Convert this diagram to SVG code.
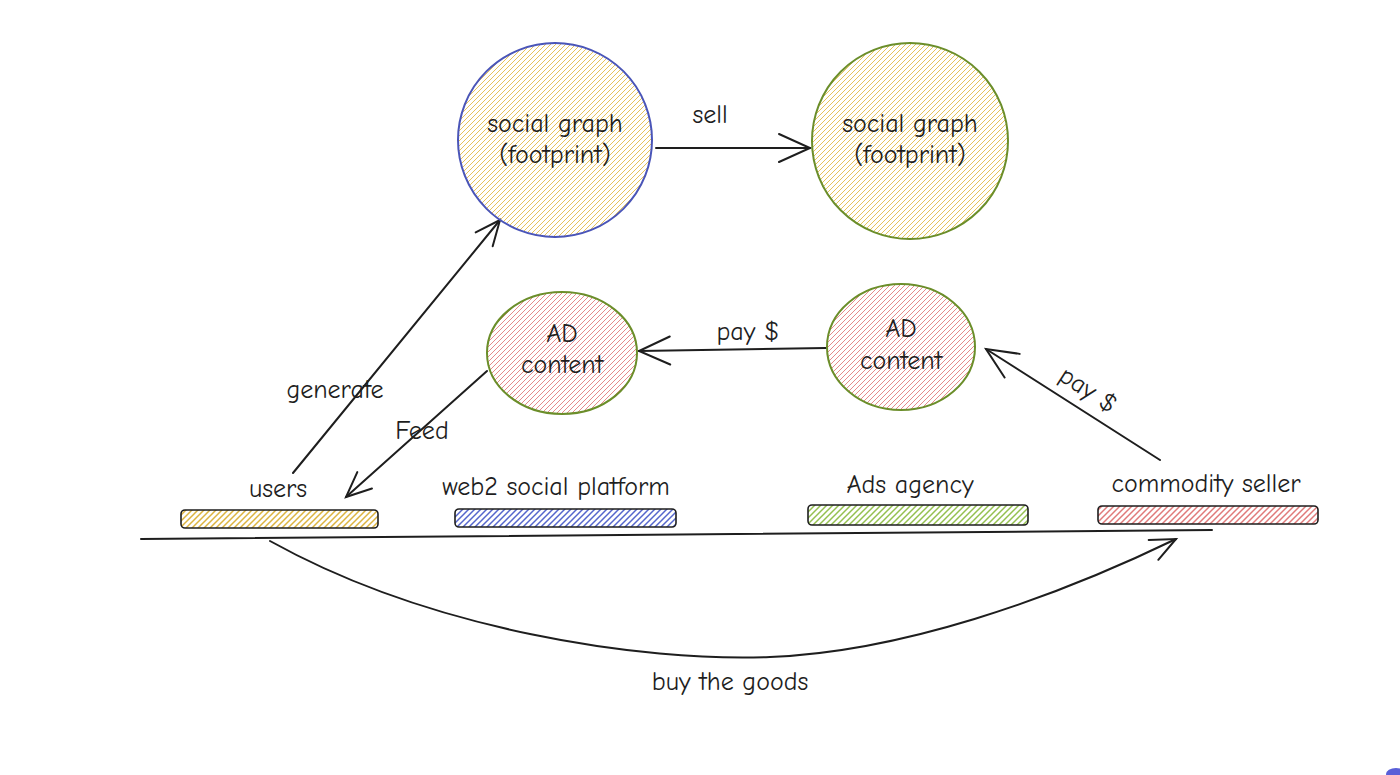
<svg xmlns="http://www.w3.org/2000/svg" width="1400" height="775" viewBox="0 0 1400 775">
<defs>
<pattern id="hY" patternUnits="userSpaceOnUse" width="5" height="5"><path d="M-1,1 l2,-2 M0,5 l5,-5 M4,6 l2,-2" stroke="#e6c15a" stroke-width="1"/></pattern>
<pattern id="hR" patternUnits="userSpaceOnUse" width="5" height="5"><path d="M-1,1 l2,-2 M0,5 l5,-5 M4,6 l2,-2" stroke="#e58a8a" stroke-width="1"/></pattern>
<pattern id="hB" patternUnits="userSpaceOnUse" width="6" height="6"><path d="M-1,1 l2,-2 M0,6 l6,-6 M5,7 l2,-2" stroke="#5566cc" stroke-width="1.5"/></pattern>
<pattern id="hG" patternUnits="userSpaceOnUse" width="6" height="6"><path d="M-1,1 l2,-2 M0,6 l6,-6 M5,7 l2,-2" stroke="#94c050" stroke-width="1.5"/></pattern>
<pattern id="hY2" patternUnits="userSpaceOnUse" width="6" height="6"><path d="M-1,1 l2,-2 M0,6 l6,-6 M5,7 l2,-2" stroke="#dcb440" stroke-width="1.5"/></pattern>
<pattern id="hR2" patternUnits="userSpaceOnUse" width="6" height="6"><path d="M-1,1 l2,-2 M0,6 l6,-6 M5,7 l2,-2" stroke="#e07a7a" stroke-width="1.5"/></pattern>
<marker id="arr" markerUnits="userSpaceOnUse" markerWidth="36" markerHeight="34" refX="33" refY="17" orient="auto" viewBox="0 0 36 34">
<path d="M2,3 L33,17 L2,31" fill="none" stroke="#1e1e1e" stroke-width="2" stroke-linecap="round"/>
</marker>
<marker id="arrS" markerUnits="userSpaceOnUse" markerWidth="30" markerHeight="28" refX="27" refY="14" orient="auto" viewBox="0 0 30 28">
<path d="M2,3 L27,14 L2,25" fill="none" stroke="#1e1e1e" stroke-width="2" stroke-linecap="round"/>
</marker>
<style>
text{font-family:"Comic Neue","Liberation Sans",sans-serif;fill:#1e1e1e;font-size:26px;text-anchor:middle}
.ln{fill:none;stroke:#1e1e1e;stroke-width:2;stroke-linecap:round}
</style>
</defs>
<rect width="1400" height="775" fill="#ffffff"/>

<g id="connectors">
<path class="ln" d="M656,148 L810,148" marker-end="url(#arr)"/>
<text x="710" y="123">sell</text>
<path class="ln" d="M826,348 L639,351" marker-end="url(#arr)"/>
<text x="748" y="340">pay $</text>
<path class="ln" d="M1160,460 L986,349" marker-end="url(#arr)"/>
<text x="1088" y="398" transform="rotate(33 1088 390)">pay $</text>
<path class="ln" d="M293,473 L500,220" marker-end="url(#arrS)"/>
<text x="335" y="398">generate</text>
<path class="ln" d="M487,371 L346,497" marker-end="url(#arrS)"/>
<text x="422" y="439">Feed</text>
<path class="ln" d="M141,539 L1212,530" stroke-width="2.5"/>
<path class="ln" d="M270,541 C430,630 640,662 770,657 C900,652 1050,600 1176,539" marker-end="url(#arrS)"/>
<text x="730" y="690">buy the goods</text>
</g>

<g id="node-social-graph-1">
<circle cx="555" cy="140" r="97" fill="url(#hY)" stroke="#4a55b8" stroke-width="2"/>
<text x="555" y="132">social graph</text>
<text x="555" y="163">(footprint)</text>
</g>
<g id="node-social-graph-2">
<circle cx="910" cy="141" r="98" fill="url(#hY)" stroke="#6b8e2a" stroke-width="2"/>
<text x="910" y="132">social graph</text>
<text x="910" y="163">(footprint)</text>
</g>
<g id="node-ad-content-1">
<ellipse cx="562" cy="353" rx="75" ry="61" fill="url(#hR)" stroke="#6b8e2a" stroke-width="2"/>
<text x="562" y="342">AD</text>
<text x="562" y="373">content</text>
</g>
<g id="node-ad-content-2">
<ellipse cx="901" cy="347" rx="74" ry="63" fill="url(#hR)" stroke="#6b8e2a" stroke-width="2"/>
<text x="901" y="337">AD</text>
<text x="901" y="369">content</text>
</g>

<g id="node-users">
<rect x="181" y="510" width="197" height="18" rx="4" fill="url(#hY2)" stroke="#1e1e1e" stroke-width="1.6"/>
<text x="278" y="497">users</text>
</g>
<g id="node-web2">
<rect x="455" y="509" width="221" height="18" rx="4" fill="url(#hB)" stroke="#1e1e1e" stroke-width="1.6"/>
<text x="556" y="495">web2 social platform</text>
</g>
<g id="node-ads-agency">
<rect x="808" y="505" width="220" height="20" rx="4" fill="url(#hG)" stroke="#1e1e1e" stroke-width="1.6"/>
<text x="910" y="493">Ads agency</text>
</g>
<g id="node-commodity-seller">
<rect x="1098" y="506" width="220" height="18" rx="4" fill="url(#hR2)" stroke="#1e1e1e" stroke-width="1.6"/>
<text x="1206" y="492">commodity seller</text>
</g>
<ellipse cx="1396" cy="774" rx="10" ry="6" fill="#5a5fd8"/>
</svg>
